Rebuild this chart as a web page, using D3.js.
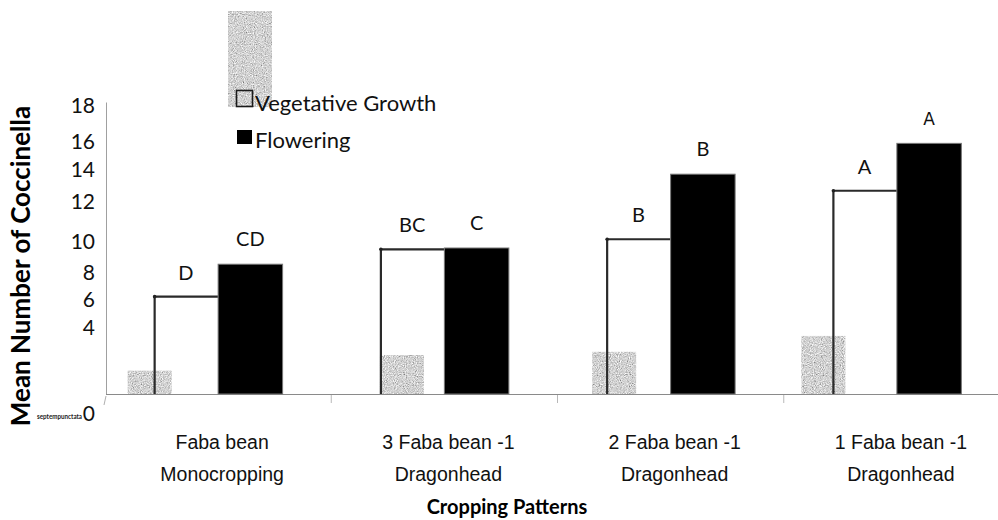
<!DOCTYPE html>
<html><head><meta charset="utf-8">
<script src="https://cdn.jsdelivr.net/npm/d3@7"></script>
<style>
html,body{margin:0;padding:0;background:#fff;}
svg{display:block;font-family:Lato,"Open Sans",sans-serif;}
</style></head>
<body><svg id="c" width="998" height="520"></svg>
<script>
const categories = [["Faba bean","Monocropping"],["3 Faba bean -1","Dragonhead"],["2 Faba bean -1","Dragonhead"],["1 Faba bean -1","Dragonhead"]];
const series = ["Vegetative Growth","Flowering"];
const vegetative = [6.0, 8.92, 9.54, 12.53];
const flowering = [8.0, 9.0, 13.55, 15.45];
const vegLetters = ["D","BC","B","A"];
const flowLetters = ["CD","C","B","A"];
const grayValues = [1.44, 2.4, 2.6, 3.58];
const yTicks = [0,4,6,8,10,12,14,16,18];

const svg = d3.select("#c");
const defs = svg.append("defs");
const f = defs.append("filter").attr("id","speckle").attr("x",0).attr("y",0).attr("width","100%").attr("height","100%")
  .attr("filterUnits","objectBoundingBox").attr("primitiveUnits","userSpaceOnUse");
f.append("feTurbulence").attr("type","fractalNoise").attr("baseFrequency","0.9").attr("numOctaves",2).attr("seed",7).attr("result","t");
f.append("feColorMatrix").attr("in","t").attr("type","matrix")
  .attr("values","0.33 0.33 0.33 0 0 0.33 0.33 0.33 0 0 0.33 0.33 0.33 0 0 0 0 0 0 1").attr("result","g");
const ct = f.append("feComponentTransfer").attr("in","g").attr("result","c");
["R","G","B"].forEach(ch=>ct.append("feFunc"+ch).attr("type","linear").attr("slope",1.9).attr("intercept",-0.3));
ct.append("feFuncA").attr("type","linear").attr("slope",0).attr("intercept",1);
f.append("feComposite").attr("in","c").attr("in2","SourceGraphic").attr("operator","in");

const baseY = 394, topY = 102, left = 106;
const y = d3.scaleLinear().domain([0,18]).range([baseY, topY]);
const x0 = d3.scaleBand().domain(d3.range(categories.length)).range([105,1010]).paddingInner(0.43).paddingOuter(0.215);
const x1 = d3.scaleBand().domain(series).range([0, x0.bandwidth()]);
const step = x0.step();

// y axis
const tickShift = {0:19,4:-2,6:3,8:8.5,10:10,12:2,14:3,16:7,18:3};
const ya = svg.append("g").attr("transform",`translate(${left},0)`)
  .call(d3.axisLeft(y).tickValues(yTicks).tickSize(0).tickPadding(11));
ya.select(".domain").attr("stroke","#a0a0a0").attr("stroke-width",1);
ya.selectAll("text").attr("font-family","Lato, sans-serif").attr("font-size",21).attr("fill","#111")
  .attr("dy",d=>(tickShift[d]+7)+"px");
svg.append("line").attr("x1",left).attr("x2",left-2).attr("y1",baseY+2).attr("y2",baseY+11).attr("stroke","#b0b0b0");

// baseline and boundary ticks
svg.append("line").attr("x1",left).attr("x2",998).attr("y1",baseY+0.5).attr("y2",baseY+0.5).attr("stroke","#8a8a8a").attr("stroke-width",1.2);
svg.selectAll(".bt").data(d3.range(1,categories.length)).join("line")
  .attr("x1",i=>x0.range()[0]+i*step).attr("x2",i=>x0.range()[0]+i*step)
  .attr("y1",baseY+1).attr("y2",baseY+9).attr("stroke","#b8b8b8");

// category labels
const xa = svg.append("g").attr("transform",`translate(0,${baseY})`)
  .call(d3.axisBottom(x0).tickSize(0).tickFormat(""));
xa.select(".domain").remove();
xa.selectAll(".tick").each(function(d){
  const t = d3.select(this).append("text").attr("text-anchor","middle").attr("fill","#111")
    .attr("font-size",19.5);
  categories[d].forEach((s,k)=>t.append("tspan").attr("x",4).attr("y",55+k*32).text(s));
});

// bars
const groups = svg.selectAll(".grp").data(d3.range(categories.length)).join("g")
  .attr("transform",i=>`translate(${x0(i)},0)`);
const grayShift = [-26,0,-14,-31];
groups.append("rect").attr("x",x1(series[0])).attr("width",x1.bandwidth())
  .attr("y",i=>y(vegetative[i])).attr("height",i=>baseY-y(vegetative[i])).attr("fill","#fff");
groups.append("rect").attr("x",i=>x1(series[0])+grayShift[i]).attr("width",44)
  .attr("y",i=>y(grayValues[i])).attr("height",i=>baseY-y(grayValues[i]))
  .attr("fill","#aaa").attr("filter","url(#speckle)");
groups.append("path").attr("d",i=>`M${x1(series[0])+1},${baseY}V${y(vegetative[i])}H${x1(series[1])}`)
  .attr("fill","none").attr("stroke","#2a2a2a").attr("stroke-width",2.2);
groups.append("circle").attr("cx",x1(series[0])+1).attr("cy",i=>y(vegetative[i])).attr("r",1.8).attr("fill","#222");
groups.append("rect").attr("x",x1(series[1])).attr("width",x1.bandwidth())
  .attr("y",i=>y(flowering[i])).attr("height",i=>baseY-y(flowering[i]))
  .attr("fill","#000").attr("stroke","#777").attr("stroke-width",1);

// letters
groups.append("text").attr("text-anchor","middle").attr("font-size",20).attr("fill","#111")
  .attr("x",x1(series[0])+x1.bandwidth()/2).attr("y",i=>y(vegetative[i])-17).text(i=>vegLetters[i]);
groups.append("text").attr("text-anchor","middle").attr("fill","#111")
  .attr("font-family",i=>i===3?"DejaVu Sans, sans-serif":"Lato, sans-serif")
  .attr("font-size",i=>i===3?17:20)
  .attr("x",x1(series[1])+x1.bandwidth()/2).attr("y",i=>y(flowering[i])-18).text(i=>flowLetters[i]);

// legend
svg.append("rect").attr("x",228).attr("y",11).attr("width",44).attr("height",96).attr("fill","#aaa").attr("filter","url(#speckle)");
svg.append("rect").attr("x",236.5).attr("y",90.5).attr("width",16).attr("height",16).attr("fill","none").attr("stroke","#1a1a1a").attr("stroke-width",1.6);
svg.append("text").attr("x",255).attr("y",111).attr("font-size",22).attr("fill","#111").text(series[0]);
svg.append("rect").attr("x",237).attr("y",130).attr("width",15).attr("height",14).attr("fill","#000");
svg.append("text").attr("x",255).attr("y",148).attr("font-size",22).attr("fill","#111").text(series[1]);

// titles
svg.append("text").attr("transform","translate(30,266) rotate(-90)").attr("text-anchor","middle")
  .attr("font-weight","bold").attr("font-size",26).attr("fill","#000").text("Mean Number of Coccinella");
svg.append("text").attr("x",37).attr("y",419).attr("font-size",6.5).attr("font-weight","bold").attr("fill","#222")
  .attr("textLength",45).attr("lengthAdjust","spacingAndGlyphs").text("septempunctata");
svg.append("text").attr("x",507).attr("y",514).attr("text-anchor","middle").attr("font-weight","bold").attr("font-size",20).attr("fill","#000").text("Cropping Patterns");
</script></body></html>
